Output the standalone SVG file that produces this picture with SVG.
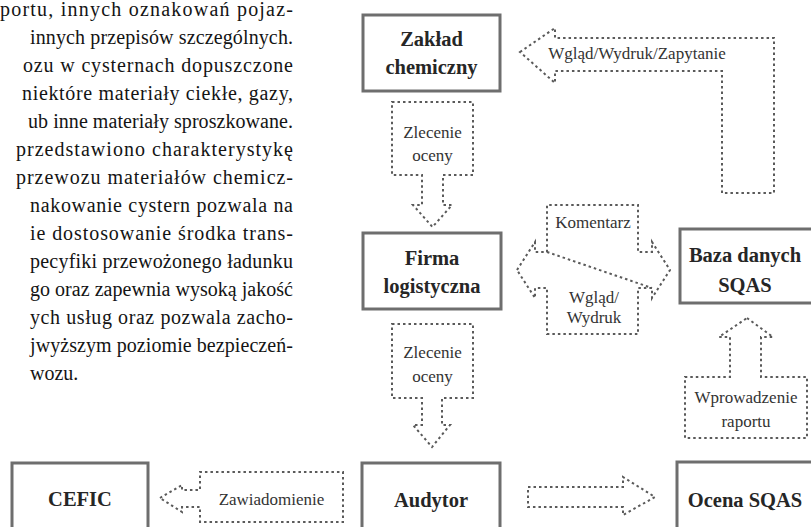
<svg xmlns="http://www.w3.org/2000/svg" width="811" height="527" viewBox="0 0 811 527">
<style>
.body{font-family:"Liberation Serif","Times New Roman",serif;font-size:20px;fill:#141414}
.node rect{fill:#fff;stroke:#6e6e6e;stroke-width:3}
.node text{font-family:"Liberation Serif","Times New Roman",serif;font-size:20.5px;font-weight:bold;fill:#262626;text-anchor:middle}
.conn{fill:none;stroke:#5a5a5a;stroke-width:2;stroke-dasharray:2.5 3}
.lbl{font-family:"Liberation Serif","Times New Roman",serif;font-size:17px;fill:#333;text-anchor:middle}
</style>
<rect width="811" height="527" fill="#fff"/>
<g id="body-text" class="body" lengthAdjust="spacing">
<text x="0" y="16" textLength="293" lengthAdjust="spacing">portu, innych oznakowań pojaz-</text>
<text x="30" y="44" textLength="263" lengthAdjust="spacing">innych przepisów szczególnych.</text>
<text x="23" y="72" textLength="270" lengthAdjust="spacing">ozu w cysternach dopuszczone</text>
<text x="22" y="100" textLength="271" lengthAdjust="spacing">niektóre materiały ciekłe, gazy,</text>
<text x="28" y="128" textLength="265" lengthAdjust="spacing">ub inne materiały sproszkowane.</text>
<text x="16" y="156" textLength="277" lengthAdjust="spacing">przedstawiono charakterystykę</text>
<text x="16" y="184" textLength="277" lengthAdjust="spacing">przewozu materiałów chemicz-</text>
<text x="30" y="212" textLength="263" lengthAdjust="spacing">nakowanie cystern pozwala na</text>
<text x="30" y="240" textLength="263" lengthAdjust="spacing">ie dostosowanie środka trans-</text>
<text x="30" y="268" textLength="263" lengthAdjust="spacing">pecyfiki przewożonego ładunku</text>
<text x="30" y="296" textLength="263" lengthAdjust="spacing">go oraz zapewnia wysoką jakość</text>
<text x="30" y="324" textLength="263" lengthAdjust="spacing">ych usług oraz pozwala zacho-</text>
<text x="30" y="352" textLength="263" lengthAdjust="spacing">jwyższym poziomie bezpieczeń-</text>
<text x="30" y="380">wozu.</text>
</g>
<g id="connectors">
<g id="c-wglad-zapytanie">
<polygon class="conn" points="520,52 555,28 555,38 774,38 774,193 722,193 722,71 555,71 555,83"/>
<text class="lbl" x="637" y="59">Wgląd/Wydruk/Zapytanie</text>
</g>
<g id="c-zlecenie-1">
<polygon class="conn" points="392,102 473,102 473,175 443,175 443,205 452,205 432.5,227 413,205 422,205 422,175 392,175"/>
<text class="lbl" x="432.5" y="138">Zlecenie</text>
<text class="lbl" x="432.5" y="161">oceny</text>
</g>
<g id="c-komentarz-wglad">
<polygon class="conn" points="517,270 535,242 535,252 547,252 547,205 638,205 638,252 652,252 652,242 670,270 652,298 652,288 638,288 638,334 547,334 547,288 535,288 535,298"/>
<line class="conn" x1="547" y1="252" x2="652" y2="288"/>
<text class="lbl" x="593" y="228">Komentarz</text>
<text class="lbl" x="594" y="303">Wgląd/</text>
<text class="lbl" x="594" y="323">Wydruk</text>
</g>
<g id="c-zlecenie-2">
<polygon class="conn" points="392,324 473,324 473,398 442,398 442,425 450,425 432,447 413,425 422,425 422,398 392,398"/>
<text class="lbl" x="432.5" y="358">Zlecenie</text>
<text class="lbl" x="432.5" y="382">oceny</text>
</g>
<g id="c-wprowadzenie">
<polygon class="conn" points="747,318 773,337 761,337 761,377 807,377 807,438 685,438 685,377 730,377 730,337 719,337"/>
<text class="lbl" x="746" y="403">Wprowadzenie</text>
<text class="lbl" x="746" y="427">raportu</text>
</g>
<g id="c-audytor-ocena">
<polygon class="conn" points="528,487 623,487 623,477 655,497 623,515 623,507 528,507"/>
</g>
<g id="c-zawiadomienie">
<polygon class="conn" points="160,498 182,485 182,490 200,490 200,472 343,472 343,522 200,522 200,507 182,507 182,512"/>
<text class="lbl" x="271.5" y="505">Zawiadomienie</text>
</g>
</g>
<g id="n-zaklad" class="node">
<rect x="363" y="15" width="137" height="76"/>
<text x="431.5" y="46">Zakład</text>
<text x="431.5" y="74">chemiczny</text>
</g>
<g id="n-firma" class="node">
<rect x="363" y="233" width="138" height="76"/>
<text x="432" y="265">Firma</text>
<text x="432" y="293">logistyczna</text>
</g>
<g id="n-baza" class="node">
<rect x="680" y="229" width="133" height="74"/>
<text x="745" y="262">Baza danych</text>
<text x="745" y="292">SQAS</text>
</g>
<g id="n-audytor" class="node">
<rect x="362" y="463" width="138" height="70"/>
<text x="431" y="507">Audytor</text>
</g>
<g id="n-ocena" class="node">
<rect x="677" y="462" width="136" height="70"/>
<text x="745" y="507">Ocena SQAS</text>
</g>
<g id="n-cefic" class="node">
<rect x="12" y="463" width="136" height="70"/>
<text x="80" y="506">CEFIC</text>
</g>
</svg>
